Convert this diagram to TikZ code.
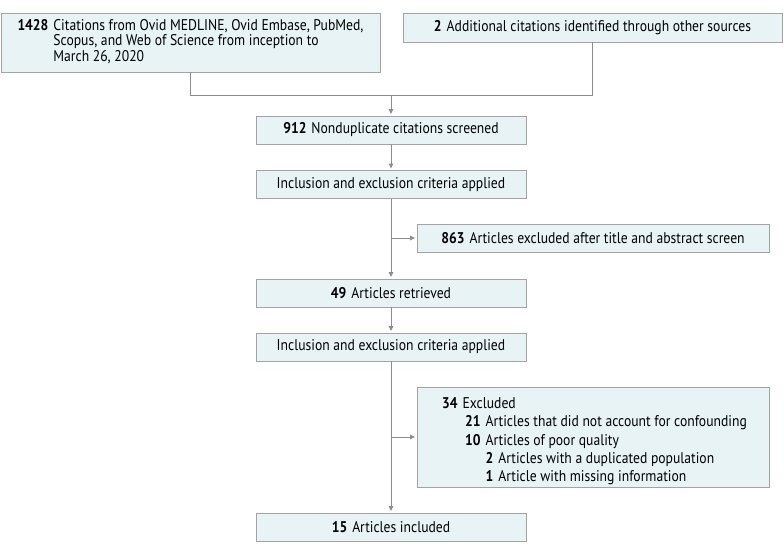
\documentclass[tikz,border=0pt]{standalone}
\usepackage{fontspec}
\setmainfont{PT Sans}[FakeStretch=0.88]
\usetikzlibrary{arrows.meta}
\definecolor{boxfill}{HTML}{E8F3F6}
\definecolor{boxline}{HTML}{A3A3A3}
\definecolor{conn}{HTML}{8C8C8C}
\tikzset{
  flowbox/.style={draw=boxline, fill=boxfill, line width=0.9pt, inner sep=0pt,
    font=\fontsize{15.5}{15.5}\selectfont, align=center},
  conline/.style={draw=conn, line width=0.9pt},
  conarrow/.style={conline, -{Triangle[length=5pt,width=4.5pt]}, shorten >=1.5pt},
  listtext/.style={anchor=base west, inner sep=0pt, font=\fontsize{15.5}{15.5}\selectfont}
}
\newcommand{\nb}[1]{\textbf{#1}\hspace{5pt}}
\begin{document}
\begin{tikzpicture}[x=1pt,y=-1pt]
\useasboundingbox (0,0) rectangle (783,555);
% boxes
\node[flowbox, minimum width=379pt, minimum height=59pt] (b1) at (190.5,42.5)
  {\begin{tabular}{@{}r@{\hspace{5pt}}l@{}}
   \textbf{1428} & Citations from Ovid MEDLINE, Ovid Embase, PubMed,\\
   & Scopus, and Web of Science from inception to\\
   & March 26, 2020
   \end{tabular}};
\node[flowbox, minimum width=379pt, minimum height=29pt] (b2) at (592.5,27.5)
  {\nb{2}Additional citations identified through other sources};
\node[flowbox, minimum width=270pt, minimum height=28pt] (b3) at (391,130)
  {\nb{912}Nonduplicate citations screened};
\node[flowbox, minimum width=270pt, minimum height=28pt] (b4) at (391,184.5)
  {Inclusion and exclusion criteria applied};
\node[flowbox, minimum width=352pt, minimum height=28pt] (b5) at (593,238)
  {\nb{863}Articles excluded after title and abstract screen};
\node[flowbox, minimum width=270pt, minimum height=28pt] (b6) at (391,293)
  {\nb{49}Articles retrieved};
\node[flowbox, minimum width=270pt, minimum height=28pt] (b7) at (391,347)
  {Inclusion and exclusion criteria applied};
\node[flowbox, minimum width=352pt, minimum height=100pt] (b8) at (593,437) {};
\node[flowbox, minimum width=270pt, minimum height=28pt] (b9) at (391,527)
  {\nb{15}Articles included};
% list in excluded box
\node[listtext] (l1) at (442,408.5) {\nb{34}Excluded};
\node[listtext] (l2) at (465,426.75) {\nb{21}Articles that did not account for confounding};
\node[listtext] (l3) at (465,445) {\nb{10}Articles of poor quality};
\node[listtext] (l4) at (485.5,463.25) {\nb{2}Articles with a duplicated population};
\node[listtext] (l5) at (485.5,481.5) {\nb{1}Article with missing information};
% connectors
\coordinate (j1) at (391,95);
\draw[conline] (b1.south) |- (j1);
\draw[conline] (b2.south) |- (j1);
\draw[conarrow] (j1) -- (b3.north);
\draw[conarrow] (b3.south) -- (b4.north);
\draw[conarrow] (b4.south) -- (b6.north);
\draw[conarrow] (b4.south |- b5.west) -- (b5.west);
\draw[conarrow] (b6.south) -- (b7.north);
\draw[conarrow] (b7.south) -- (b9.north);
\draw[conarrow] (b7.south |- b8.west) -- (b8.west);
\end{tikzpicture}
\end{document}
